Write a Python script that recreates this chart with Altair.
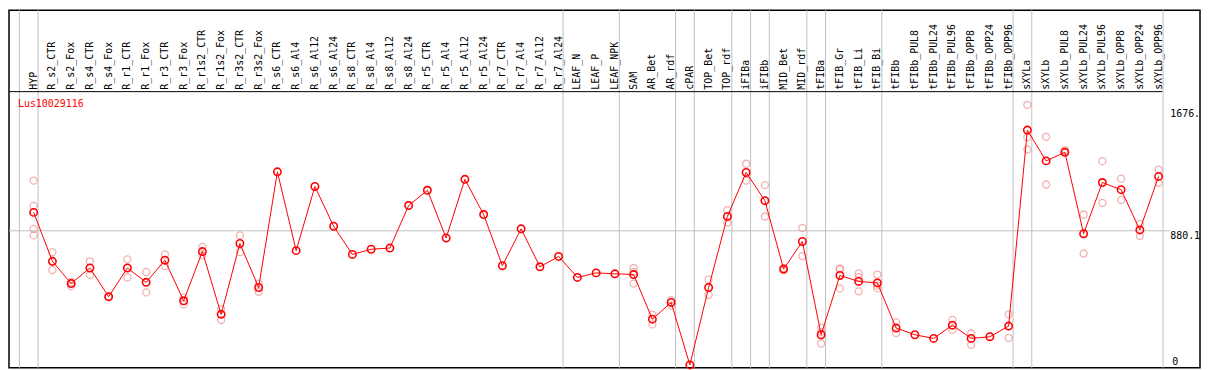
import altair as alt
import pandas as pd

categories = ["HYP", "R_s2_CTR", "R_s2_Fox", "R_s4_CTR", "R_s4_Fox", "R_r1_CTR", "R_r1_Fox",
              "R_r3_CTR", "R_r3_Fox", "R_r1s2_CTR", "R_r1s2_Fox", "R_r3s2_CTR", "R_r3s2_Fox",
              "R_s6_CTR", "R_s6_Al4", "R_s6_Al12", "R_s6_Al24", "R_s8_CTR", "R_s8_Al4", "R_s8_Al12",
              "R_s8_Al24", "R_r5_CTR", "R_r5_Al4", "R_r5_Al12", "R_r5_Al24", "R_r7_CTR", "R_r7_Al4",
              "R_r7_Al12", "R_r7_Al24", "LEAF_N", "LEAF_P", "LEAF_NPK", "SAM", "AR_Bet", "AR_rdf",
              "cPAR", "TOP_Bet", "TOP_rdf", "iFIBa", "iFIBb", "MID_Bet", "MID_rdf", "tFIBa",
              "tFIB_Gr", "tFIB_Li", "tFIB_Bi", "tFIBb", "tFIBb_PUL8", "tFIBb_PUL24", "tFIBb_PUL96",
              "tFIBb_OPP8", "tFIBb_OPP24", "tFIBb_OPP96", "sXYLa", "sXYLb", "sXYLb_PUL8",
              "sXYLb_PUL24", "sXYLb_PUL96", "sXYLb_OPP8", "sXYLb_OPP24", "sXYLb_OPP96"]

means = [1001, 680, 534, 636, 448, 636, 542, 687, 421, 744, 332, 797, 508,
         1267, 750, 1171, 910, 725, 759, 767, 1046, 1146, 833, 1218, 987, 651, 893,
         644, 712, 574, 604, 598, 593, 300, 410, 0, 508, 974, 1263, 1078, 629, 810,
         198, 587, 548, 538, 242, 198, 174, 261, 174, 185, 255, 1541, 1339, 1395,
         861, 1197, 1150, 886, 1237]

rep_cat = (["HYP"] * 4 + ["R_s2_CTR"] * 2 + ["R_s2_Fox"] * 2 + ["R_s4_CTR"] * 2 + ["R_s4_Fox"] * 2
           + ["R_r1_CTR"] * 2 + ["R_r1_Fox"] * 2 + ["R_r3_CTR"] * 2 + ["R_r3_Fox"] * 2
           + ["R_r1s2_CTR"] * 2 + ["R_r1s2_Fox"] * 2 + ["R_r3s2_CTR"] * 2 + ["R_r3s2_Fox"] * 2
           + ["SAM"] * 3 + ["AR_Bet"] * 2 + ["AR_rdf"] * 2 + ["TOP_Bet"] * 2 + ["TOP_rdf"] * 2
           + ["iFIBa"] * 2 + ["iFIBb"] * 2 + ["MID_Bet"] * 2 + ["MID_rdf"] * 2 + ["tFIBa"] * 3
           + ["tFIB_Gr"] * 3 + ["tFIB_Li"] * 3 + ["tFIB_Bi"] * 3 + ["tFIBb"] * 2
           + ["tFIBb_PUL96"] * 2 + ["tFIBb_OPP8"] * 2 + ["tFIBb_OPP96"] * 2 + ["sXYLa"] * 3
           + ["sXYLb"] * 2 + ["sXYLb_PUL8"] * 2 + ["sXYLb_PUL24"] * 2 + ["sXYLb_PUL96"] * 2
           + ["sXYLb_OPP8"] * 2 + ["sXYLb_OPP24"] * 2 + ["sXYLb_OPP96"] * 2)
rep_val = [1210, 1044, 893, 850, 740, 623, 544, 517, 680, 591, 450, 445,
           693, 574, 610, 476, 725, 649, 442, 397,
           774, 719, 364, 295, 850, 740, 534, 480,
           636, 610, 534, 330, 266, 425, 389, 559, 459, 1016, 935,
           1320, 1210, 1180, 974, 636, 622, 899, 714, 245, 215, 140,
           625, 634, 502, 600, 576, 483, 593, 520, 502, 279, 209,
           295, 230, 206, 132, 332, 177, 1707, 1494, 1414,
           1497, 1184, 1410, 1400, 987, 731, 1337, 1063,
           1222, 1082, 925, 846, 1282, 1195]

# group separators (after these category indices)
sep_after = [-1, 0, 28, 31, 34, 35, 37, 38, 39, 41, 42, 45, 52, 53, 60]
axis_vals = [1676, 880.1]
axis_texts = ["1676.", "880.1"]
gene = "Lus10029116"

idx_of = {c: i for i, c in enumerate(categories)}
df_mean = pd.DataFrame({"idx": range(len(categories)), "cat": categories, "value": means})
df_rep = pd.DataFrame({"idx": [idx_of[c] for c in rep_cat], "value": rep_val})
df_sep = pd.DataFrame({"pos": [s + 0.237 for s in sep_after]})
df_ax = pd.DataFrame({"value": axis_vals, "label": axis_texts})
df_zero = pd.DataFrame({"value": [0], "label": ["0"]})

xs = alt.Scale(domain=[-1.3155, 62.208], nice=False, zero=False)
ys = alt.Scale(domain=[-18.9, 2327.8], nice=False, zero=False)
X = alt.X("idx:Q", scale=xs, axis=None)
Y = alt.Y("value:Q", scale=ys, axis=None)
FONT = "DejaVu Sans Mono"

seps = alt.Chart(df_sep).mark_rule(color="#c0c0c0", strokeWidth=1).encode(
    x=alt.X("pos:Q", scale=xs, axis=None), y=alt.value(0), y2=alt.value(360))

hgrid = alt.Chart(df_ax.iloc[[1]]).mark_rule(color="#c0c0c0", strokeWidth=1).encode(
    y=Y, x=alt.value(0), x2=alt.value(1169))

header_line = alt.Chart(pd.DataFrame({"v": [0]})).mark_rule(color="black", strokeWidth=1).encode(
    y=alt.value(82), x=alt.value(0), x2=alt.value(1161))

labels = alt.Chart(df_mean).mark_text(angle=270, align="left", baseline="middle",
                                      font=FONT, fontSize=10, color="black").encode(
    x=X, y=alt.value(80), text="cat:N")

title = alt.Chart(pd.DataFrame({"t": [gene]})).mark_text(
    align="left", baseline="middle", font=FONT, fontSize=10, color="red").encode(
    x=alt.value(9), y=alt.value(94), text="t:N")

axlab = alt.Chart(df_ax).mark_text(align="left", baseline="top", font=FONT, fontSize=10,
                                   color="black").encode(
    x=alt.value(1169), y=Y, text="label:N")
zerolab = alt.Chart(df_zero).mark_text(align="left", baseline="alphabetic", font=FONT,
                                       fontSize=10, color="black").encode(
    x=alt.value(1171), y=Y, text="label:N")

reps = alt.Chart(df_rep).mark_point(shape="circle", size=50, filled=False,
                                    color="#ee9090", strokeWidth=1.3).encode(x=X, y=Y)
line = alt.Chart(df_mean).mark_line(color="red", strokeWidth=1).encode(x=X, y=Y)
pts = alt.Chart(df_mean).mark_point(shape="circle", size=55, filled=False,
                                    color="red", strokeWidth=1.6, opacity=1).encode(x=X, y=Y)

chart = alt.layer(seps, hgrid, header_line, labels, title, axlab, zerolab, reps, line, pts).properties(
    width=1199, height=360, padding=1, autosize="none"
).configure_view(stroke="black", strokeWidth=1.5)

chart.save("out.html", embed_options={"renderer": "svg", "actions": False})
